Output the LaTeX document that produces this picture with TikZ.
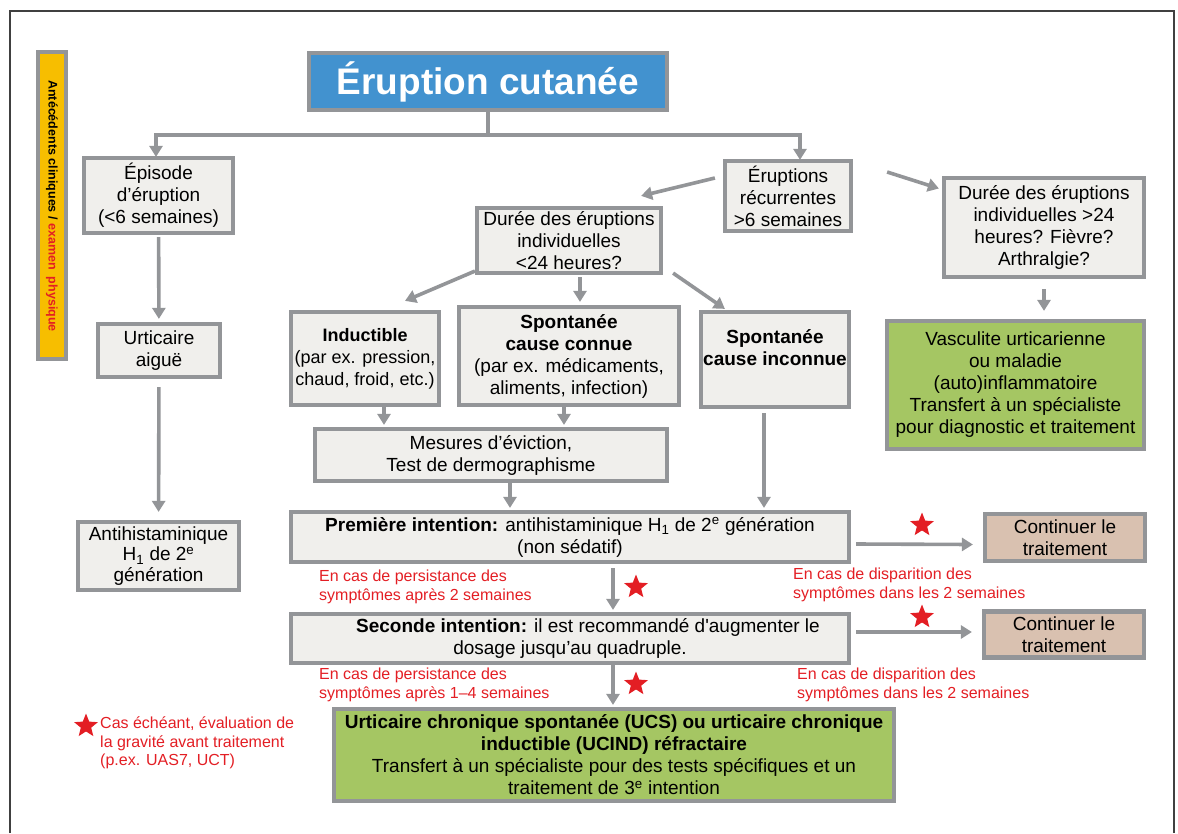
\documentclass[tikz,border=0pt]{standalone}
\usepackage{fontspec}
\setmainfont{Liberation Sans}
\usetikzlibrary{arrows.meta,calc,shapes.geometric}
\definecolor{bordergray}{RGB}{147,149,152}
\definecolor{boxfill}{RGB}{240,239,236}
\definecolor{titleblue}{RGB}{66,146,207}
\definecolor{vgreen}{RGB}{165,198,99}
\definecolor{tanbox}{RGB}{217,193,176}
\definecolor{gold}{RGB}{247,190,0}
\definecolor{redtxt}{RGB}{227,30,36}
\begin{document}
\begin{tikzpicture}[x=1pt,y=-1pt,
 box/.style={draw=bordergray, line width=4.2pt, fill=boxfill, align=center, inner sep=1pt, font=\fontsize{19}{22}\selectfont},
 arr/.style={draw=bordergray, line width=3.6pt, -{Triangle[length=11pt,width=13pt]}},
 note/.style={text=redtxt, align=left, anchor=west, inner sep=0pt, font=\fontsize{16}{18.5}\selectfont},
 rstar/.style={star, star points=5, star point ratio=2.3, fill=redtxt, draw=none, minimum size=25pt, inner sep=0pt}]
\useasboundingbox (0,0) rectangle (1178,833);
\draw[black!75, line width=1.2pt] (10,833) -- (10,11) -- (1174,11) -- (1174,833);

% side bar
\node[box, fill=gold, minimum width=28, minimum height=307] (side) at (52,205.5) {};
\node[rotate=-90, inner sep=0pt, font=\fontsize{12.5}{14}\selectfont\bfseries] (sidet) at (52,206) {Antécédents cliniques / \textcolor{redtxt}{examen\ \ physique}};

% nodes
\node[box, fill=titleblue, minimum width=358, minimum height=57, text=white, font=\fontsize{37}{40}\selectfont\bfseries] (title) at (488,81.5) {Éruption cutanée};
\node[box, minimum width=149, minimum height=75] (episode) at (158.5,195.5) {Épisode\\d’éruption\\(<6 semaines)};
\node[box, minimum width=122, minimum height=53] (urtaig) at (159,350.5) {Urticaire\\aiguë};
\node[box, minimum width=161, minimum height=68, font=\fontsize{19}{20.5}\selectfont] (antih) at (158.5,556) {Antihistaminique\\H\textsubscript{1} de 2\textsuperscript{e}\\génération};
\node[box, minimum width=126, minimum height=70] (recur) at (788,196) {Éruptions\\récurrentes\\>6 semaines};
\node[box, minimum width=184, minimum height=65] (dur24) at (569,240.5) {Durée des éruptions\\individuelles\\<24 heures?};
\node[box, minimum width=200, minimum height=99] (durg) at (1044,227.5) {Durée des éruptions\\individuelles >24\\heures? Fièvre?\\Arthralgie?};
\node[box, fill=vgreen, minimum width=257, minimum height=128] (vasc) at (1015.5,385) {Vasculite urticarienne\\ou maladie\\(auto)inflammatoire\\Transfert à un spécialiste\\pour diagnostic et traitement};
\node[box, minimum width=148, minimum height=93, font=\fontsize{18}{22}\selectfont] (induc) at (365,358.5) {\textbf{Inductible}\\(par ex. pression,\\chaud, froid, etc.)};
\node[box, minimum width=220, minimum height=98] (sconn) at (569,356) {\textbf{Spontanée}\\\textbf{cause connue}\\(par ex. médicaments,\\aliments, infection)};
\node[box, minimum width=148, minimum height=95] (sinc) at (775,359.5) {};
\node[align=center, inner sep=0pt, font=\fontsize{19}{22}\selectfont\bfseries] (sinct) at (775,348) {Spontanée\\cause inconnue};
\node[box, minimum width=352, minimum height=52] (mes) at (491,455) {Mesures d’éviction,\\Test de dermographisme};
\node[box, minimum width=558, minimum height=50] (prem) at (570,537) {\textbf{Première intention:} antihistaminique H\textsubscript{1} de 2\textsuperscript{e} génération\\(non sédatif)};
\node[box, minimum width=558, minimum height=49] (sec) at (570,638.5) {\hspace*{36pt}\textbf{Seconde intention:} il est recommandé d\textquotesingle augmenter le\\dosage jusqu’au quadruple.};
\node[box, fill=vgreen, minimum width=560, minimum height=92] (ucs) at (614,755) {\textbf{Urticaire chronique spontanée (UCS) ou urticaire chronique}\\\textbf{inductible (UCIND) réfractaire}\\Transfert à un spécialiste pour des tests spécifiques et un\\traitement de 3\textsuperscript{e} intention};
\node[box, fill=tanbox, minimum width=160, minimum height=47] (cont1) at (1065,537.5) {Continuer le\\traitement};
\node[box, fill=tanbox, minimum width=160, minimum height=46] (cont2) at (1064,634.5) {Continuer le\\traitement};

% red notes and stars
\node[note] (n1) at (319,587) {En cas de persistance des\\symptômes après 2 semaines};
\node[note] (n2) at (793,585) {En cas de disparition des\\symptômes dans les 2 semaines};
\node[note] (n3) at (319,685) {En cas de persistance des\\symptômes après 1–4 semaines};
\node[note] (n4) at (797,685) {En cas de disparition des\\symptômes dans les 2 semaines};
\node[rstar] (s1) at (922,525) {};
\node[rstar] (s2) at (922,617) {};
\node[rstar] (s3) at (636,587) {};
\node[rstar] (s4) at (636,684) {};
\node[rstar] (s0) at (86,726) {};
\node[note] (legend) at (100,743) {Cas échéant, évaluation de\\la gravité avant traitement\\(p.ex. UAS7, UCT)};

% connectors
\coordinate (jL) at (156,135);
\coordinate (jR) at (800,135);
\draw[arr] (title.south) |- (jL) -- ([yshift=-1pt]jL |- episode.north);
\draw[arr] (title.south) |- (jR) -- ([yshift=-1pt]jR |- recur.north);
\draw[arr, shorten <=2pt, shorten >=3pt] (episode) -- (urtaig);
\draw[arr, shorten <=8pt, shorten >=8pt] (urtaig) -- (antih);
\draw[arr] ($(recur.west)+(-8,-18)$) -- ($(dur24.north east)+(-22,-10)$);
\draw[arr] ($(recur.east)+(34,-24)$) -- ($(durg.west)+(-3,-39)$);
\coordinate (dg) at ($(durg.south)+(0,10)$);
\draw[arr] (dg) -- ($(dg |- vasc.north)+(0,-8)$);
\draw[arr] ($(dur24.south west)+(0,-4)$) -- ($(induc.north)+(40,-9)$);
\coordinate (dm) at ($(dur24.south)+(11,2)$);
\draw[arr] (dm) -- ($(dm |- sconn.north)+(0,-3)$);
\draw[arr] ($(dur24.south east)+(10,-2)$) -- ($(sinc.north west)+(26,-1)$);
\coordinate (ia) at ($(induc.south)+(19,0)$);
\draw[arr] (ia) -- ($(ia |- mes.north)+(0,-2)$);
\coordinate (ca) at ($(sconn.south)+(-5,0)$);
\draw[arr] (ca) -- ($(ca |- mes.north)+(0,-2)$);
\coordinate (ua) at ($(sinc.south)+(-11,4)$);
\draw[arr] (ua) -- ($(ua |- prem.north)+(0,-2)$);
\coordinate (ma) at ($(mes.south)+(19,0)$);
\draw[arr] (ma) -- ($(ma |- prem.north)+(0,-2)$);
\coordinate (pa) at ($(prem.south)+(43,4)$);
\draw[arr] (pa) -- ($(pa |- sec.north)+(0,-2)$);
\coordinate (sa) at ($(sec.south)+(43,0)$);
\draw[arr] (sa) -- ($(sa |- ucs.north)+(0,-2)$);
\draw[arr] ($(prem.east)+(5,7)$) -- ($(cont1.west)+(-10,7)$);
\draw[arr] ($(sec.east)+(5,-6.5)$) -- ($(cont2.west)+(-10,-2.5)$);
\end{tikzpicture}
\end{document}
